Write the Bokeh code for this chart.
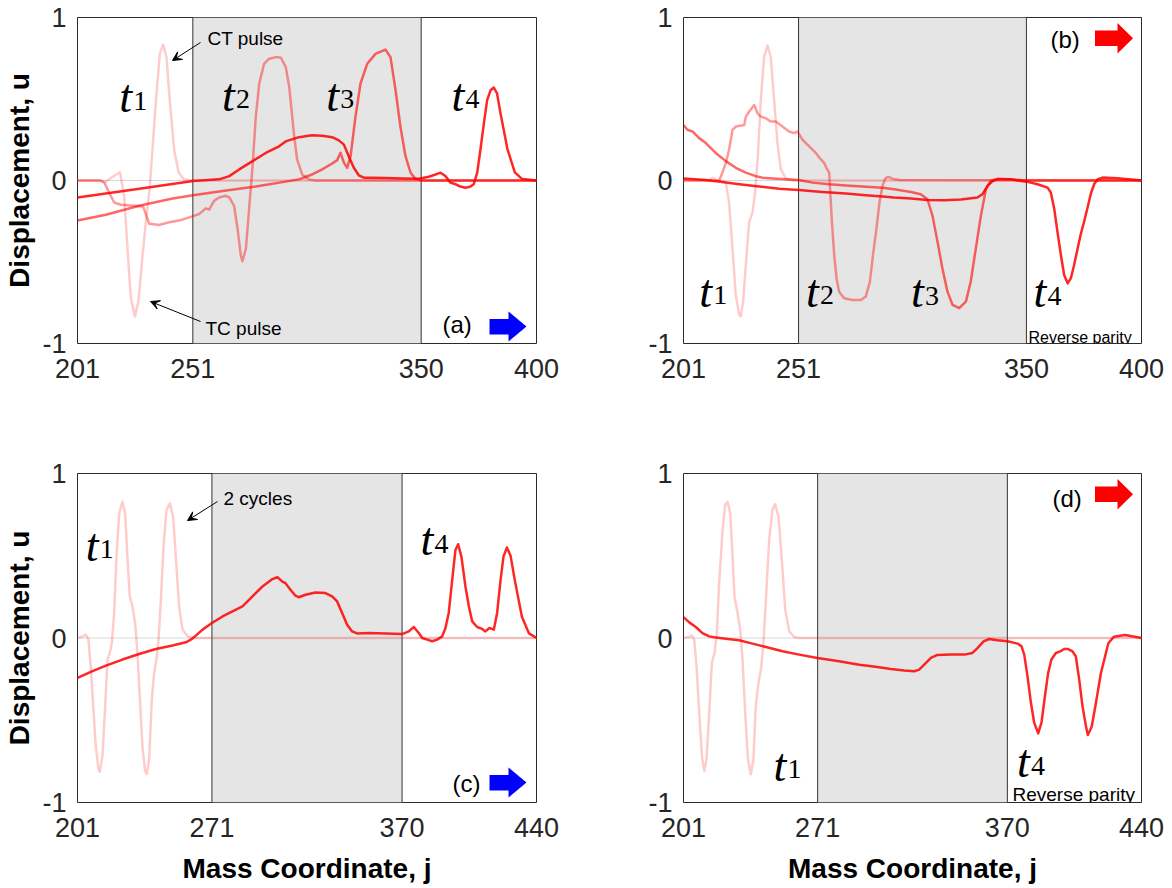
import math
from bokeh.plotting import figure
from bokeh.models import Range1d, FixedTicker, BoxAnnotation, Span, Label, Arrow, VeeHead
from bokeh.layouts import row, column
from bokeh.embed import file_html
from bokeh.resources import INLINE

# ---------------- data ----------------
XTICKS_AB = [201, 251, 350, 400]
XTICKS_CD = [201, 271, 370, 440]
YTICKS = [-1, 0, 1]
YTICK_LABELS = {-1: "-1", 0: "0", 1: "1"}
BAND_AB = [251, 350]
BAND_CD = [271, 370]

# panel (a)
A_T1_J = [201, 210, 213, 216, 219.4, 221.2, 222.7, 224.1, 225.9, 227.4, 229.2, 230.9, 232.4, 233.5, 235, 236.7, 238.1, 239.6, 241, 242.9, 244.8, 247.2, 251, 400]
A_T1_U = [0, 0, -0.01, 0.02, 0.05, -0.09, -0.42, -0.72, -0.835, -0.74, -0.46, -0.22, -0.03, 0.19, 0.49, 0.78, 0.834, 0.756, 0.49, 0.19, 0.05, 0.006, 0, 0]
A_T2_J = [201, 211.1, 212.6, 214.7, 216.9, 219.8, 225.6, 229.5, 232.1, 236.4, 240.7, 245.1, 249.4, 253.7, 256.6, 258.1, 260.2, 262.4, 265.3, 266.8, 268.9, 270.4, 271.8, 272.5, 274.0, 275.4, 276.9, 278.3, 279.8, 281.9, 284.1, 287.0, 289.2, 291.3, 292.8, 293.4, 294.8, 296.2, 298.4, 301.3, 304.2, 400]
A_T2_U = [0, 0, -0.013, -0.074, -0.135, -0.149, -0.155, -0.16, -0.266, -0.273, -0.256, -0.246, -0.226, -0.206, -0.171, -0.179, -0.125, -0.104, -0.094, -0.104, -0.155, -0.297, -0.459, -0.495, -0.418, -0.175, 0.088, 0.392, 0.595, 0.716, 0.747, 0.757, 0.753, 0.696, 0.574, 0.49, 0.29, 0.13, 0.037, 0.007, 0, 0]
A_T3_J = [201, 213.3, 227.7, 242.2, 251.1, 263.9, 278.3, 291.2, 297.0, 302.7, 307.1, 311.4, 313.6, 315.0, 316.5, 317.9, 319.4, 321.5, 323.7, 326.6, 330.2, 334.5, 336.7, 338.9, 341.0, 343.2, 345.4, 347.5, 350.4, 400]
A_T3_U = [-0.246, -0.21, -0.155, -0.11, -0.09, -0.064, -0.037, -0.007, 0.007, 0.037, 0.068, 0.104, 0.125, 0.17, 0.11, 0.078, 0.15, 0.39, 0.595, 0.716, 0.777, 0.803, 0.757, 0.554, 0.331, 0.149, 0.048, 0.01, 0, 0]
A_T4_J = [201, 226.3, 251.1, 262.4, 266.8, 271.1, 276.9, 282.6, 288.4, 291.2, 297.0, 302.7, 307.1, 311.4, 314.3, 316.5, 318.6, 320.8, 323.0, 325.1, 328.8, 334.5, 341.8, 349.0, 353.3, 356.2, 358.4, 360.5, 362.7, 364.9, 367.0, 369.2, 371.4, 372.8, 374.3, 375.7, 377.2, 378.6, 380.1, 381.5, 382.9, 384.4, 387.4, 390.6, 393.7, 400]
A_T4_U = [-0.104, -0.054, -0.003, 0.007, 0.027, 0.068, 0.119, 0.169, 0.21, 0.24, 0.266, 0.277, 0.275, 0.266, 0.246, 0.22, 0.149, 0.078, 0.031, 0.017, 0.017, 0.015, 0.013, 0.011, 0.023, 0.037, 0.048, 0.027, -0.013, -0.023, -0.037, -0.044, -0.037, -0.023, 0.048, 0.19, 0.352, 0.493, 0.554, 0.57, 0.534, 0.412, 0.193, 0.05, 0.01, 0]

# panel (b)
B_T1_J = [201, 212, 213.6, 215.0, 217.2, 219.4, 220.8, 222.3, 223.7, 225.2, 225.9, 226.9, 228.4, 229.5, 231.0, 232.1, 233.3, 234.6, 236.0, 237.5, 238.9, 240.4, 241.8, 243.3, 245.5, 248.4, 400]
B_T1_U = [0, 0, 0.017, 0.007, -0.003, -0.013, -0.135, -0.418, -0.702, -0.824, -0.834, -0.743, -0.459, -0.256, -0.196, -0.074, 0.149, 0.493, 0.757, 0.828, 0.757, 0.493, 0.23, 0.068, 0.011, 0, 0]
B_T2_J = [201, 216.5, 217.9, 219.4, 220.8, 222.3, 223.7, 227.4, 228.1, 229.5, 231.7, 233.2, 234.6, 236.8, 238.9, 241.1, 244.0, 246.9, 249.1, 250.5, 252.7, 255.6, 258.5, 260.7, 262.1, 263.1, 264.3, 264.7, 265.5, 266.5, 267.5, 268.6, 270.8, 274.4, 278.1, 280.2, 282.0, 283.4, 284.8, 286.2, 287.5, 288.8, 290.0, 292.0, 295.0, 400]
B_T2_U = [0, 0, 0.048, 0.108, 0.189, 0.311, 0.331, 0.341, 0.392, 0.422, 0.463, 0.412, 0.392, 0.381, 0.362, 0.362, 0.331, 0.301, 0.291, 0.301, 0.25, 0.21, 0.169, 0.129, 0.108, 0.078, 0.048, -0.054, -0.256, -0.459, -0.601, -0.682, -0.722, -0.733, -0.733, -0.712, -0.62, -0.45, -0.3, -0.13, -0.03, 0.015, 0.022, 0.01, 0.003, 0]
B_T3_J = [201, 202.7, 204.9, 207.8, 210.7, 215.0, 219.4, 223.7, 228.1, 232.4, 235.3, 239.7, 245.5, 251.0, 257.1, 264.3, 271.5, 278.8, 287.5, 292.5, 299.8, 304.1, 307.0, 309.2, 311.4, 313.5, 315.7, 317.9, 320.8, 323.7, 325.8, 328.0, 330.2, 332.4, 334.5, 337.4, 343.2, 350.0, 400]
B_T3_U = [0.341, 0.311, 0.301, 0.26, 0.23, 0.169, 0.119, 0.078, 0.048, 0.027, 0.017, 0.013, 0.007, 0.003, -0.013, -0.023, -0.03, -0.037, -0.044, -0.054, -0.07, -0.084, -0.115, -0.217, -0.378, -0.54, -0.682, -0.763, -0.783, -0.743, -0.621, -0.418, -0.217, -0.054, -0.003, 0.011, 0.007, 0, 0]
B_T4_J = [201, 210.7, 217.9, 225.2, 233.9, 242.6, 251.0, 261.4, 271.5, 280.2, 287.5, 292.5, 299.8, 307.0, 314.3, 321.5, 328.7, 330.9, 333.1, 335.3, 337.4, 343.2, 350.0, 354.8, 359.2, 360.6, 362.1, 363.5, 365.0, 366.4, 367.9, 369.3, 370.7, 372.2, 373.6, 375.1, 376.5, 378.0, 379.5, 381.0, 383.1, 389.6, 400]
B_T4_U = [0.013, 0.003, -0.009, -0.023, -0.037, -0.05, -0.058, -0.07, -0.08, -0.09, -0.098, -0.104, -0.11, -0.119, -0.121, -0.117, -0.104, -0.084, -0.033, -0.003, 0.007, 0.007, -0.007, -0.023, -0.044, -0.074, -0.175, -0.317, -0.46, -0.58, -0.631, -0.6, -0.52, -0.42, -0.33, -0.25, -0.17, -0.08, -0.02, 0.008, 0.018, 0.014, 0]

# panel (c)
C_T1_J = [201, 203.6, 205.3, 206.7, 207.9, 209.2, 210.5, 211.9, 212.6, 214.0, 215.4, 216.6, 217.8, 218.9, 220.1, 221.3, 222.7, 224.4, 225.8, 227.0, 228.2, 229.6, 231.0, 232.2, 233.5, 234.8, 236.2, 237.1, 238.3, 239.7, 240.9, 242.1, 243.2, 244.4, 245.8, 247.3, 249.1, 250.8, 252.2, 253.9, 255.7, 258.3, 260.9, 440]
C_T1_U = [0, 0.01, 0.02, -0.01, -0.172, -0.414, -0.657, -0.798, -0.814, -0.717, -0.414, -0.131, -0.091, -0.03, 0.152, 0.495, 0.758, 0.828, 0.758, 0.495, 0.253, 0.192, 0.091, -0.091, -0.374, -0.657, -0.808, -0.828, -0.737, -0.374, -0.212, -0.131, -0.01, 0.232, 0.556, 0.778, 0.818, 0.737, 0.495, 0.192, 0.051, 0.01, 0, 0]
C_T4_J = [201, 208.8, 215.8, 224.4, 233.1, 241.8, 250.5, 257.4, 260.0, 262.6, 266.1, 271.0, 276.5, 281.7, 286.9, 292.1, 297.3, 302.5, 305.1, 307.7, 309.3, 311.9, 314.5, 316.2, 319.7, 324.9, 330.1, 333.6, 336.2, 338.8, 341.4, 344.0, 346.6, 352.7, 361.4, 370.0, 373.5, 376.1, 378.7, 380.5, 383.1, 385.7, 388.3, 390.9, 392.6, 394.3, 396.1, 397.8, 399.2, 400.9, 403.0, 404.8, 406.5, 409.1, 411.7, 413.4, 415.5, 417.8, 419.5, 421.3, 422.8, 424.6, 426.5, 428.7, 432.4, 436.1, 440]
C_T4_U = [-0.242, -0.202, -0.168, -0.131, -0.097, -0.067, -0.046, -0.026, -0.01, 0.014, 0.051, 0.091, 0.131, 0.162, 0.192, 0.253, 0.313, 0.358, 0.37, 0.343, 0.333, 0.293, 0.257, 0.248, 0.263, 0.277, 0.273, 0.253, 0.222, 0.152, 0.081, 0.04, 0.028, 0.03, 0.028, 0.024, 0.04, 0.067, 0.03, 0.0, -0.01, -0.02, -0.01, 0.01, 0.061, 0.152, 0.354, 0.535, 0.57, 0.495, 0.313, 0.192, 0.101, 0.067, 0.055, 0.04, 0.061, 0.051, 0.152, 0.354, 0.495, 0.55, 0.5, 0.352, 0.129, 0.028, 0]

# panel (d)
D_T1_J = [201, 204.0, 205.3, 206.6, 207.8, 209.2, 210.6, 211.8, 213.0, 214.4, 215.8, 217.2, 218.4, 219.6, 221.4, 222.7, 224.0, 225.4, 226.6, 227.6, 229.2, 230.6, 231.8, 233.2, 234.6, 236.1, 237.5, 238.7, 240.1, 241.4, 242.6, 244.0, 245.7, 247.4, 248.8, 250.6, 252.3, 254.1, 256.2, 258.8, 261.4, 440]
D_T1_U = [0, 0.006, 0.016, -0.01, -0.172, -0.455, -0.717, -0.808, -0.737, -0.455, -0.152, -0.091, 0.03, 0.333, 0.657, 0.808, 0.828, 0.758, 0.495, 0.253, 0.152, 0.051, -0.131, -0.455, -0.737, -0.828, -0.737, -0.414, -0.273, -0.192, -0.051, 0.232, 0.596, 0.778, 0.814, 0.737, 0.475, 0.172, 0.04, 0.006, 0, 0]
D_T4_J = [201, 204.0, 207.4, 210.9, 214.4, 217.0, 223.1, 230.0, 237.0, 244.0, 252.7, 261.4, 270.9, 282.2, 292.7, 302.2, 309.2, 316.2, 321.4, 324.0, 326.6, 330.1, 333.5, 340.5, 347.5, 351.8, 354.4, 357.6, 360.5, 364.9, 370.1, 375.3, 377.4, 378.8, 380.5, 382.3, 384.0, 386.1, 387.8, 389.6, 391.3, 393.0, 395.3, 397.6, 399.6, 401.7, 404.0, 405.7, 407.5, 409.2, 411.0, 412.0, 414.0, 415.9, 418.8, 422.7, 425.6, 431.4, 440]
D_T4_U = [0.127, 0.095, 0.067, 0.03, 0.01, 0.004, -0.004, -0.014, -0.034, -0.055, -0.081, -0.101, -0.121, -0.141, -0.162, -0.176, -0.188, -0.198, -0.202, -0.192, -0.162, -0.121, -0.103, -0.101, -0.101, -0.091, -0.061, -0.02, -0.006, -0.014, -0.02, -0.034, -0.051, -0.101, -0.232, -0.394, -0.515, -0.58, -0.515, -0.354, -0.212, -0.131, -0.091, -0.081, -0.067, -0.067, -0.081, -0.111, -0.253, -0.414, -0.535, -0.59, -0.54, -0.416, -0.214, -0.032, 0.008, 0.018, 0]

# time-label anchors (j, u) for "t" with subscripts
A_TLAB = [("1", 219.1, 0.514), ("2", 263.6, 0.524), ("3", 308.8, 0.524), ("4", 363.2, 0.524)]
B_TLAB = [("1", 207.8, -0.678), ("2", 254.2, -0.678), ("3", 299.8, -0.682), ("4", 353.1, -0.682)]
C_TLAB = [("1", 205.3, 0.565), ("4", 379.6, 0.596)]
D_TLAB = [("1", 248.0, -0.774), ("4", 375.0, -0.753)]

# ---------------- styling / layout ----------------
RED = "#ff0000"
ALPHA = {"1": 0.2, "2": 0.4, "3": 0.6, "4": 0.85}
SANS = "Liberation Sans"
SERIF = "Liberation Serif"

ARROW_LOW = [(412, 301.5), (431, 301.5), (431, 294), (449, 309), (431, 324), (431, 317), (412, 317)]
ARROW_HIGH = [(411.5, 13), (434, 13), (434, 5.5), (449.5, 20.7), (434, 36), (434, 28.5), (411.5, 28.5)]

TOP_H, BOT_H = 458, 430
FW_L, FW_R = 459, 458
FH_T, FH_B = 326, 329
LW, RW = 588, 584
TOP_BORDERS = (17, TOP_H - 17 - FH_T)
BOT_BORDERS = (15, BOT_H - 15 - FH_B)


def conv(p_info, px, py):
    xr, fw, fh = p_info
    return xr[0] + px * (xr[1] - xr[0]) / fw, 1 - 2.0 * py / fh


def make_panel(xr, xticks, band, width, height, borders, curves, tlabels, xlabel, ylabel):
    bl, br, bt, bb = borders
    p = figure(width=width, height=height, x_range=Range1d(xr[0], xr[1]), y_range=Range1d(-1, 1),
               output_backend="svg", toolbar_location=None,
               min_border_left=bl, min_border_right=br, min_border_top=bt, min_border_bottom=bb,
               background_fill_color="white", border_fill_color="white")
    p.grid.visible = False
    p.xaxis.ticker = FixedTicker(ticks=xticks)
    p.yaxis.ticker = FixedTicker(ticks=YTICKS)
    p.yaxis.major_label_overrides = YTICK_LABELS
    for ax in (p.xaxis[0], p.yaxis[0]):
        ax.axis_line_color = None
        ax.major_tick_line_color = None
        ax.minor_tick_line_color = None
        ax.major_tick_out = 0
        ax.major_tick_in = 0
        ax.minor_tick_out = 0
        ax.major_label_text_font = SANS
        ax.major_label_text_font_size = "27px"
        ax.major_label_text_color = "#262626"
        ax.axis_label_text_font = SANS
        ax.axis_label_text_font_style = "bold"
        ax.axis_label_text_font_size = "28px"
        ax.axis_label_text_color = "black"
    p.xaxis.major_label_standoff = 15
    p.yaxis.major_label_standoff = 11
    if xlabel:
        p.xaxis.axis_label = "Mass Coordinate, j"
        p.xaxis.axis_label_standoff = 13
    if ylabel:
        p.yaxis.axis_label = "Displacement, u"
        p.yaxis.axis_label_standoff = 4
    p.outline_line_color = "#2b2b2b"
    p.outline_line_width = 1

    p.add_layout(BoxAnnotation(left=band[0], right=band[1], fill_color="#e5e5e5", fill_alpha=1.0,
                               line_color=None, level="underlay"))
    p.add_layout(Span(location=0, dimension="width", line_color="#d8d8d8", line_width=1, level="underlay"))
    for xv in band:
        p.add_layout(Span(location=xv, dimension="height", line_color="#333333", line_width=1, level="underlay"))

    for key, jj, uu in curves:
        p.line(jj, uu, line_color=RED, line_alpha=ALPHA[key], line_width=2.5, line_join="round")

    for sub, x, y in tlabels:
        p.add_layout(Label(x=x, y=y, text="t", text_font=SERIF, text_font_style="italic",
                           text_font_size="46px", text_baseline="alphabetic", text_align="left",
                           text_color="black"))
        p.add_layout(Label(x=x, y=y, text=sub, x_offset=14, y_offset=-4, text_font=SERIF,
                           text_font_size="28px", text_baseline="alphabetic", text_align="left",
                           text_color="black"))
    return p


def add_block_arrow(p, info, shape, color):
    pts = [conv(info, px, py) for px, py in shape]
    p.patch([q[0] for q in pts], [q[1] for q in pts], fill_color=color, line_color=None)


def add_text(p, info, px, py, text, size, baseline="alphabetic"):
    x, y = conv(info, px, py)
    p.add_layout(Label(x=x, y=y, text=text, text_font=SANS, text_font_size=size,
                       text_baseline=baseline, text_align="left", text_color="black"))


def add_pointer(p, info, start, end):
    x0, y0 = conv(info, *start)
    x1, y1 = conv(info, *end)
    p.add_layout(Arrow(end=VeeHead(size=9, line_color="black", fill_color="black", line_width=1),
                       x_start=x0, y_start=y0, x_end=x1, y_end=y1, line_color="black", line_width=1))


pa = make_panel((201, 400), XTICKS_AB, BAND_AB, LW, TOP_H, (77, LW - 77 - FW_L) + TOP_BORDERS,
                [("1", A_T1_J, A_T1_U), ("2", A_T2_J, A_T2_U), ("3", A_T3_J, A_T3_U), ("4", A_T4_J, A_T4_U)],
                A_TLAB, False, True)
pb = make_panel((201, 400), XTICKS_AB, BAND_AB, RW, TOP_H, (95, RW - 95 - FW_R) + TOP_BORDERS,
                [("1", B_T1_J, B_T1_U), ("2", B_T2_J, B_T2_U), ("3", B_T3_J, B_T3_U), ("4", B_T4_J, B_T4_U)],
                B_TLAB, False, False)
pc = make_panel((201, 440), XTICKS_CD, BAND_CD, LW, BOT_H, (77, LW - 77 - FW_L) + BOT_BORDERS,
                [("1", C_T1_J, C_T1_U), ("4", C_T4_J, C_T4_U)], C_TLAB, True, True)
pd = make_panel((201, 440), XTICKS_CD, BAND_CD, RW, BOT_H, (95, RW - 95 - FW_R) + BOT_BORDERS,
                [("1", D_T1_J, D_T1_U), ("4", D_T4_J, D_T4_U)], D_TLAB, True, False)

ia = ((201, 400), FW_L, FH_T)
ib = ((201, 400), FW_R, FH_T)
ic = ((201, 440), FW_L, FH_B)
idd = ((201, 440), FW_R, FH_B)

# (a) annotations
add_text(pa, ia, 130, 21, "CT pulse", "19px")
add_pointer(pa, ia, (123, 25), (95, 43))
add_text(pa, ia, 128, 311, "TC pulse", "19px")
add_pointer(pa, ia, (123, 304), (73, 284))
add_text(pa, ia, 365, 307, "(a)", "24px", "middle")
add_block_arrow(pa, ia, ARROW_LOW, "#0000ff")

# (b)
add_text(pb, ib, 367, 22, "(b)", "24px", "middle")
add_block_arrow(pb, ib, ARROW_HIGH, "#ff0000")
add_text(pb, ib, 345, 320, "Reverse parity", "16px")

# (c)
add_text(pc, ic, 146, 25, "2 cycles", "19px")
add_pointer(pc, ic, (140, 28), (110, 47))
add_text(pc, ic, 375, 310, "(c)", "24px", "middle")
add_block_arrow(pc, ic, ARROW_LOW, "#0000ff")

# (d)
add_text(pd, idd, 369, 25, "(d)", "24px", "middle")
add_block_arrow(pd, idd, ARROW_HIGH, "#ff0000")
add_text(pd, idd, 329, 321, "Reverse parity", "19px")

layout = column(row(pa, pb), row(pc, pd))
open("out.html", "w").write(file_html(layout, INLINE))
